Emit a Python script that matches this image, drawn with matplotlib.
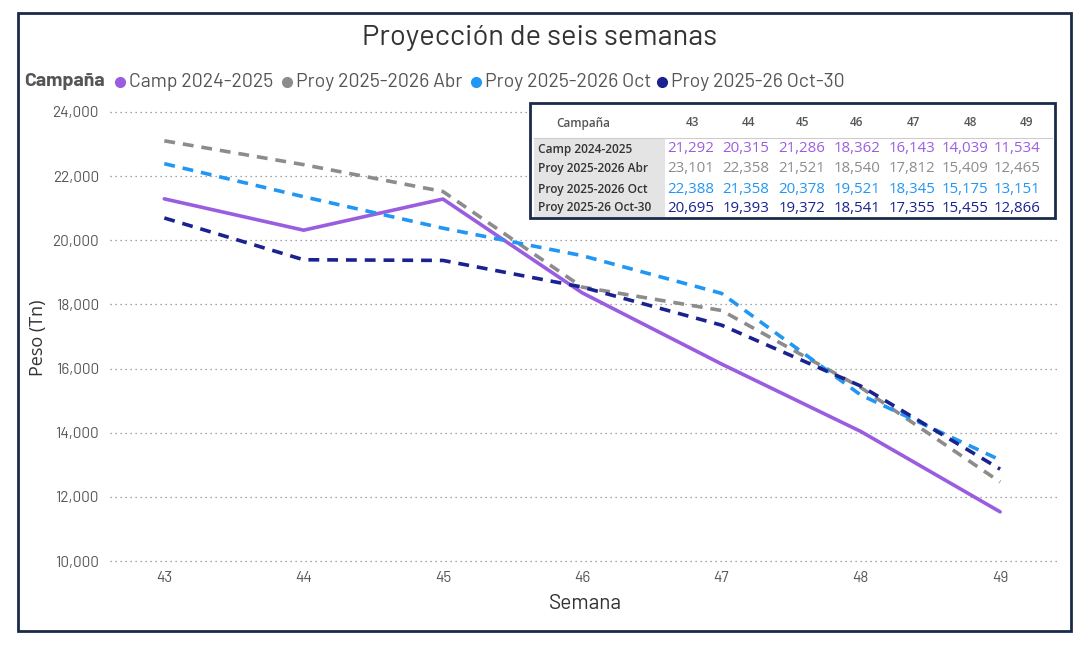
import matplotlib
matplotlib.use("Agg")
import matplotlib.pyplot as plt
from matplotlib.patches import Rectangle
from matplotlib.lines import Line2D

weeks = [43, 44, 45, 46, 47, 48, 49]
series_names = ["Camp 2024-2025", "Proy 2025-2026 Abr", "Proy 2025-2026 Oct", "Proy 2025-26 Oct-30"]
camp_2024_2025 = [21292, 20315, 21286, 18362, 16143, 14039, 11534]
proy_abr = [23101, 22358, 21521, 18540, 17812, 15409, 12465]
proy_oct = [22388, 21358, 20378, 19521, 18345, 15175, 13151]
proy_oct30 = [20695, 19393, 19372, 18541, 17355, 15455, 12866]
yticks = [10000, 12000, 14000, 16000, 18000, 20000, 22000, 24000]

colors = ["#9B5DE0", "#8C8C8C", "#2196F3", "#1A2290"]
styles = ["-", "--", "--", "--"]
all_series = [camp_2024_2025, proy_abr, proy_oct, proy_oct30]

FONT = ["Barlow", "DejaVu Sans"]
TFONT = ["Open Sans", "DejaVu Sans"]
plt.rcParams["font.family"] = FONT

W, H = 1087, 648
fig = plt.figure(figsize=(W / 100, H / 100), dpi=100)

def fx(p):
    return p / W

def fy(p):
    return 1 - p / H

# outer border
fig.patches.append(Rectangle((fx(18), fy(631)), fx(1071) - fx(18), fy(13) - fy(631),
                             transform=fig.transFigure, fill=False, edgecolor="#1B2A4A", lw=2))

ax = fig.add_axes([fx(110), fy(570), fx(1060) - fx(110), fy(105) - fy(570)])
for vals, c, ls in zip(all_series, colors, styles):
    ax.plot(weeks, vals, color=c, ls=ls, lw=2.6, dashes=(3, 2.2) if ls == "--" else (None, None),
            solid_capstyle="round", dash_capstyle="butt", zorder=3)

ax.set_xlim(42.61, 49.43)
ax.set_ylim(9720, 24218)
ax.set_xticks(weeks)
ax.set_xticklabels([str(w) for w in weeks])
ax.set_yticks(yticks)
ax.set_yticklabels([f"{v:,}" for v in yticks])
ax.tick_params(axis="both", length=0, labelsize=11, colors="#555555")
ax.tick_params(axis="x", pad=1)
ax.tick_params(axis="y", pad=8)
for s in ax.spines.values():
    s.set_visible(False)
ax.grid(axis="y", ls=(0, (1, 3)), color="#888888", lw=0.9)
ax.set_axisbelow(True)
ax.set_xlabel("Semana", fontsize=15, color="#333333", labelpad=6)
ax.set_ylabel("Peso (Tn)", fontsize=13, color="#333333", labelpad=4, family=TFONT)

fig.text(fx(540), fy(38), "Proyección de seis semanas", ha="center", va="center", fontsize=21, color="#333333")

# legend
fig.text(fx(24), fy(82), "Campaña", ha="left", va="center", fontsize=14, fontweight="bold", color="#555555")
leg_x = [120, 287, 476, 662]
for x, name, c in zip(leg_x, series_names, colors):
    fig.add_artist(Line2D([fx(x)], [fy(82)], marker="o", markersize=7, color=c, transform=fig.transFigure))
    fig.text(fx(x + 9), fy(82), name, ha="left", va="center", fontsize=14, color="#555555")

# table
fig.patches.append(Rectangle((fx(530), fy(218)), fx(1055) - fx(530), fy(103) - fy(218),
                             transform=fig.transFigure, facecolor="white", edgecolor="#1B2A4A", lw=2, zorder=5))
fig.patches.append(Rectangle((fx(534), fy(217)), fx(665) - fx(534), fy(139) - fy(217),
                             transform=fig.transFigure, facecolor="#E4E4E4", edgecolor="none", zorder=6))
fig.add_artist(Line2D([fx(534), fx(1052)], [fy(138), fy(138)], color="#CCCCCC", lw=0.8,
                      transform=fig.transFigure, zorder=6))
fig.text(fx(583), fy(123), "Campaña", ha="center", va="center", fontsize=8.5, fontweight="semibold",
         color="#555555", family=TFONT, zorder=7)
hdr_x = [692, 749, 803, 856, 913, 970, 1027]
val_right = [714, 769, 825, 880, 935, 988, 1040]
row_y = [149, 169, 189, 208]
for hx, w in zip(hdr_x, weeks):
    fig.text(fx(hx), fy(123), str(w), ha="center", va="center", fontsize=8.5, fontweight="semibold",
             color="#555555", family=TFONT, zorder=7)
for ry, name, vals, c in zip(row_y, series_names, all_series, colors):
    fig.text(fx(538), fy(ry), name, ha="left", va="center", fontsize=8.6, fontweight="semibold",
             color="#333333", family=TFONT, zorder=7)
    for rx, v in zip(val_right, vals):
        fig.text(fx(rx), fy(ry), f"{v:,}", ha="right", va="center", fontsize=10.8, color=c,
                 family=TFONT, zorder=7)

fig.savefig("out.png", dpi=100)
